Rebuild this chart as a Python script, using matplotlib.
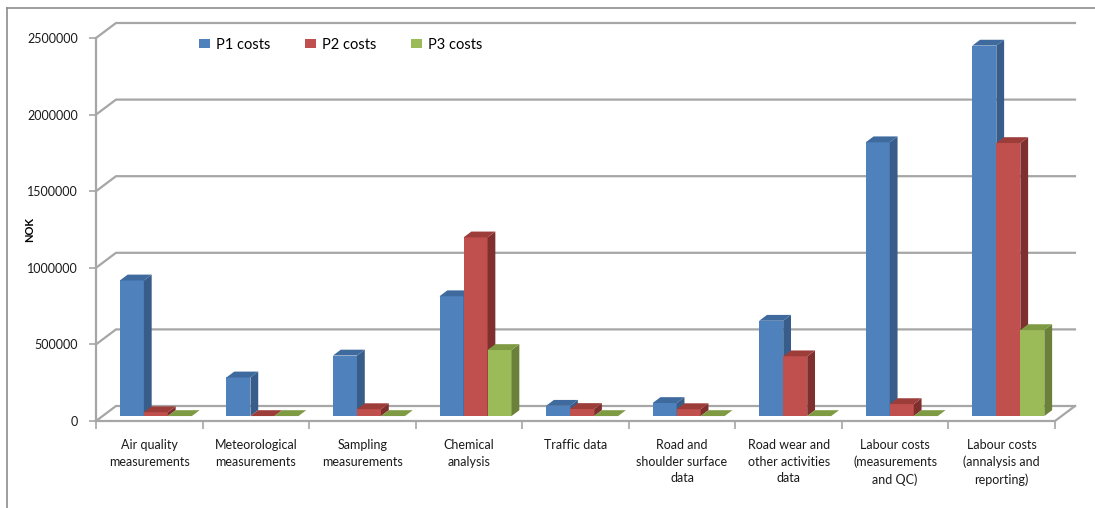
import matplotlib
matplotlib.use("Agg")
from matplotlib import pyplot as plt
from matplotlib.patches import Polygon, Patch
from matplotlib.lines import Line2D

categories = ["Air quality\nmeasurements", "Meteorological\nmeasurements",
              "Sampling\nmeasurements", "Chemical\nanalysis", "Traffic data",
              "Road and\nshoulder surface\ndata", "Road wear and\nother activities\ndata",
              "Labour costs\n(measurements\nand QC)", "Labour costs\n(annalysis and\nreporting)"]
p1_costs = [885000, 252000, 395000, 782000, 67000, 85000, 622000, 1787000, 2418000]
p2_costs = [25000, 0, 45000, 1166000, 46000, 45000, 390000, 78000, 1782000]
p3_costs = [0, 0, 0, 431000, 0, 0, 0, 0, 561000]
series_names = ["P1 costs", "P2 costs", "P3 costs"]
y_ticks = [0, 500000, 1000000, 1500000, 2000000, 2500000]

# face colours: front, side, top
colors = [("#4F81BD", "#385D8A", "#3E6A9E"),
          ("#C0504D", "#7F302E", "#9D3D3A"),
          ("#9BBB59", "#6B8139", "#7E9A43")]

plt.rcParams['font.family'] = ['Lato', 'DejaVu Sans']

W, H = 1095, 508
fig = plt.figure(figsize=(W / 100, H / 100), dpi=100)
ax = fig.add_axes([96 / W, (H - 421) / H, 959 / W, 383 / H])
n = len(categories)
ax.set_xlim(-0.5, n - 0.5)
ax.set_ylim(0, 2500000)

# depth of the 3d box in data units
px_x = 1.0 / (959 / n)
px_y = 2500000 / 383
Dx, Dy = 20 * px_x, 15 * px_y
f0, f1 = 0.33, 0.72
w = 24 * px_x

grid = "#A6A6A6"
# back wall gridlines with the diagonal on the left wall
for v in y_ticks:
    ax.plot([-0.5, -0.5 + Dx, n - 0.5 + Dx], [v, v + Dy, v + Dy],
            color=grid, lw=1.6, clip_on=False, zorder=1)
# floor front edge and right diagonal
ax.plot([-0.5, n - 0.5, n - 0.5 + Dx], [0, 0, Dy], color=grid, lw=1.6,
        clip_on=False, zorder=1)

z = 3
all_series = [p1_costs, p2_costs, p3_costs]
for i in range(n):
    for s, vals in enumerate(all_series):
        v = vals[i]
        xl = i + (s - 1.5) * w + f0 * Dx
        xr = xl + w
        b = f0 * Dy
        dx, dy = (f1 - f0) * Dx, (f1 - f0) * Dy
        front, side, top = colors[s]
        ax.bar(xl, v, width=w, bottom=b, align="edge", color=front,
               linewidth=0, zorder=z, clip_on=False)
        ax.add_patch(Polygon([(xr, b), (xr + dx, b + dy), (xr + dx, b + v + dy), (xr, b + v)],
                             closed=True, facecolor=side, lw=0, zorder=z, clip_on=False))
        ax.add_patch(Polygon([(xl, b + v), (xl + dx, b + v + dy), (xr + dx, b + v + dy), (xr, b + v)],
                             closed=True, facecolor=top, lw=0, zorder=z, clip_on=False))
        z += 1

for side in ["top", "right", "bottom"]:
    ax.spines[side].set_visible(False)
ax.spines["left"].set_color(grid)
ax.spines["left"].set_linewidth(1.6)

ax.set_yticks(y_ticks)
ax.set_yticklabels([str(v) for v in y_ticks])
ax.tick_params(axis="y", length=5, width=1.2, color=grid, pad=8,
               labelsize=9, labelcolor="#1a1a1a")
ax.set_xticks(range(n))
ax.set_xticklabels(categories, linespacing=1.45)
ax.set_xticks([k - 0.5 for k in range(n + 1)], minor=True)
ax.tick_params(axis="x", which="major", length=0, pad=13, labelsize=9,
               labelcolor="#1a1a1a")
ax.tick_params(axis="x", which="minor", length=6, width=1.2, color=grid)

fig.text(30 / W, 1 - 230 / H, "NOK", rotation=90, fontsize=8,
         fontweight="bold", ha="center", va="center")

handles = [Patch(facecolor=c[0], edgecolor="none") for c in colors]
fig.legend(handles, series_names, loc="center left",
           bbox_to_anchor=(186 / W, 1 - 45 / H), ncol=3, frameon=False,
           fontsize=10.5, handlelength=0.75, handleheight=0.6,
           handletextpad=0.4, columnspacing=2.4)

# chart border
fig.add_artist(Line2D([7 / W, 1], [1 - 8 / H, 1 - 8 / H], color="#8C8C8C", lw=1.2))
fig.add_artist(Line2D([7 / W, 7 / W], [0, 1 - 8 / H], color="#8C8C8C", lw=1.2))

fig.savefig("out.png", dpi=100)
